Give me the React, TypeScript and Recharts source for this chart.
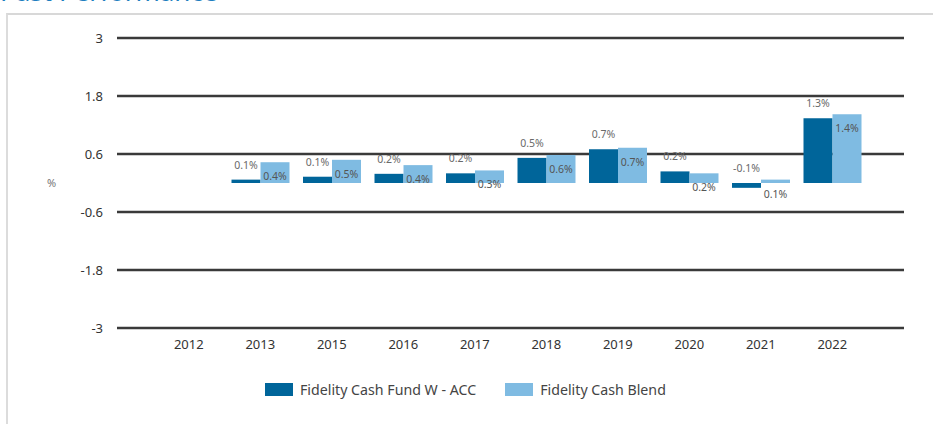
import React from "react";
import { BarChart, Bar, XAxis, YAxis, CartesianGrid, LabelList } from "recharts";

const years = ["2012", "2013", "2015", "2016", "2017", "2018", "2019", "2020", "2021", "2022"];
const fundValues = [null, 0.07, 0.13, 0.19, 0.2, 0.52, 0.7, 0.24, -0.1, 1.34];
const blendValues = [null, 0.43, 0.48, 0.37, 0.26, 0.58, 0.73, 0.2, 0.07, 1.42];
const yTicks = [-3, -1.8, -0.6, 0.6, 1.8, 3];

const FUND_NAME = "Fidelity Cash Fund W - ACC";
const BLEND_NAME = "Fidelity Cash Blend";
const FUND_COLOR = "#00659a";
const BLEND_COLOR = "#7fbbe2";

const data = years.map((year, i) => ({
  year,
  fund: fundValues[i],
  blend: blendValues[i],
}));

const font = "'Noto Sans', sans-serif";

// fund labels sit above the bar, blend labels just inside the top
const makeLabel = (above: boolean) => (props: any) => {
  const { x, y, width, height, value } = props;
  if (value === null || value === undefined) return null;
  const top = Math.min(y, y + height);
  const cy = above ? top - 15 : top + 14;
  return (
    <text
      x={x + width / 2}
      y={cy}
      textAnchor="middle"
      dominantBaseline="central"
      fontSize={10.5}
      fontFamily={font}
      fill={above ? "#6a6a6a" : "#555"}
    >
      {`${Number(value).toFixed(1)}%`}
    </text>
  );
};

const App: React.FC = () => {
  return (
    <div
      style={{
        position: "absolute",
        left: 0,
        top: 0,
        width: 933,
        height: 424,
        overflow: "hidden",
        background: "#fff",
        fontFamily: font,
      }}
    >
      <div
        style={{
          position: "absolute",
          left: 0,
          top: -22,
          fontSize: 26,
          lineHeight: "26px",
          color: "#1f7fc0",
          whiteSpace: "nowrap",
        }}
      >
        Past Performance
      </div>
      <div
        style={{
          position: "absolute",
          left: 6,
          top: 13,
          width: 1000,
          height: 500,
          borderTop: "2.5px solid #d8d8d8",
          borderLeft: "2px solid #dcdcdc",
        }}
      />
      <div style={{ position: "absolute", left: 0, top: 0 }}>
        <BarChart
          width={933}
          height={424}
          data={data}
          margin={{ top: 38, right: 29, bottom: 66, left: 37 }}
          barCategoryGap={7}
          barGap={0}
        >
          <CartesianGrid vertical={false} stroke="#3a3a3a" strokeWidth={2.5} />
          <XAxis
            dataKey="year"
            padding={{ left: 36, right: 36 }}
            axisLine={false}
            tickLine={false}
            tickSize={0}
            tickMargin={12}
            height={30}
            tick={{ fill: "#333", fontSize: 13, fontFamily: font }}
          />
          <YAxis
            domain={[-3, 3]}
            ticks={yTicks}
            width={80}
            axisLine={false}
            tickLine={false}
            tickSize={0}
            tickMargin={14}
            tick={{ fill: "#333", fontSize: 13, fontFamily: font }}
            label={{
              value: "%",
              position: "insideLeft",
              offset: 10,
              fill: "#777",
              fontSize: 11,
              fontFamily: font,
            }}
          />
          <Bar dataKey="fund" name={FUND_NAME} fill={FUND_COLOR} isAnimationActive={false}>
            <LabelList dataKey="fund" content={makeLabel(true)} />
          </Bar>
          <Bar dataKey="blend" name={BLEND_NAME} fill={BLEND_COLOR} isAnimationActive={false}>
            <LabelList dataKey="blend" content={makeLabel(false)} />
          </Bar>
        </BarChart>
      </div>
      <div
        style={{
          position: "absolute",
          left: 265,
          top: 380,
          display: "flex",
          alignItems: "center",
          fontSize: 14.2,
          color: "#444",
          whiteSpace: "nowrap",
        }}
      >
        <span style={{ display: "inline-block", width: 28, height: 13, background: FUND_COLOR, marginRight: 7 }} />
        <span>{FUND_NAME}</span>
        <span
          style={{ display: "inline-block", width: 28, height: 13, background: BLEND_COLOR, marginLeft: 29, marginRight: 7 }}
        />
        <span>{BLEND_NAME}</span>
      </div>
    </div>
  );
};

export default App;
